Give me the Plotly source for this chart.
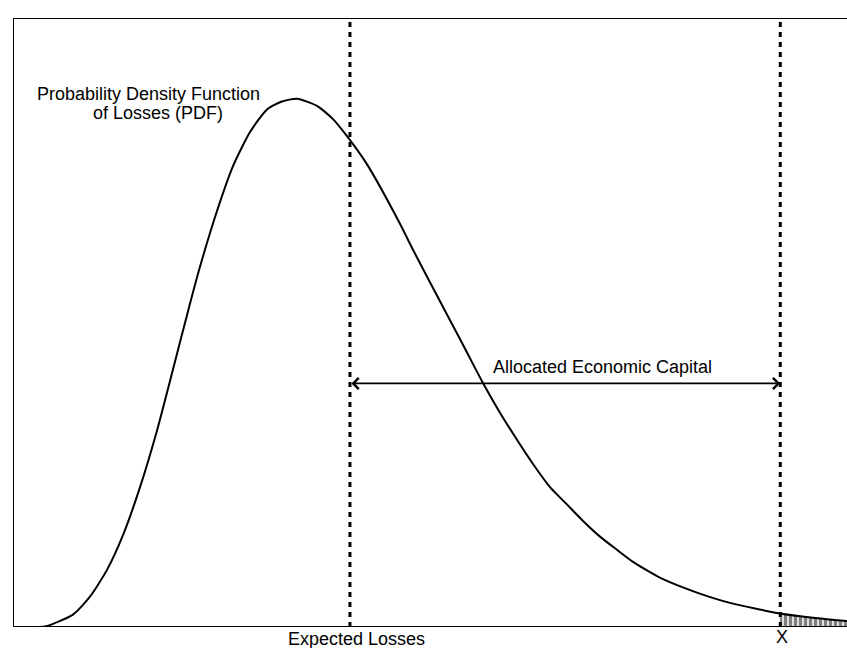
import plotly.graph_objects as go

# Loss axis (0-100 arbitrary units) and density (0-100 = top of frame)
loss = [0.0, 2.04, 3.84, 7.19, 9.23, 11.27, 13.19, 15.23, 17.27, 19.18, 21.22, 22.42, 24.46,
        26.38, 28.42, 30.46, 32.25, 34.05, 36.45, 38.37, 40.05, 42.45, 46.40, 47.96, 50.36,
        52.40, 54.44, 56.35, 58.39, 60.43, 62.35, 64.39, 66.43, 68.35, 70.38, 72.42, 74.34,
        76.38, 77.94, 82.01, 85.97, 91.97, 95.92, 100.0]
density = [0.0, 0.0, 0.08, 2.04, 4.98, 9.38, 15.09, 22.96, 32.28, 42.28, 53.09, 59.15, 68.31,
           75.68, 81.28, 84.99, 86.29, 86.75, 85.57, 83.40, 80.59, 75.96, 66.22, 61.94, 55.67,
           50.38, 45.07, 40.07, 35.19, 30.74, 26.77, 22.97, 20.11, 17.41, 14.84, 12.68, 10.69,
           9.01, 7.85, 5.65, 3.96, 2.23, 1.53, 0.99]

expected_loss = 40.4
var_x = 92.0
capital_level = 40.0

tail_x = [x for x in loss if x >= var_x - 0.1]
tail_y = [y for x, y in zip(loss, density) if x >= var_x - 0.1]

FONT = "Liberation Sans, Arial, Helvetica, sans-serif"

fig = go.Figure()

fig.add_trace(go.Scatter(
    x=tail_x, y=tail_y, mode="lines", fill="tozeroy",
    line=dict(width=0, color="black"),
    fillcolor="white",
    fillpattern=dict(shape="|", size=5, solidity=0.7, fgcolor="black", bgcolor="white"),
    hoverinfo="skip", showlegend=False,
))

fig.add_trace(go.Scatter(
    x=loss, y=density, mode="lines",
    line=dict(color="black", width=2, shape="spline", smoothing=0.6),
    hoverinfo="skip", showlegend=False,
))

shapes = [
    # frame: left, top, bottom
    dict(type="line", xref="x", yref="y", x0=0, x1=0, y0=0, y1=100, line=dict(color="black", width=2)),
    dict(type="line", xref="x", yref="y", x0=0, x1=100, y0=100, y1=100, line=dict(color="black", width=2)),
    dict(type="line", xref="x", yref="y", x0=0, x1=100, y0=0, y1=0, line=dict(color="black", width=2)),
    # dashed verticals
    dict(type="line", xref="x", yref="y", x0=expected_loss, x1=expected_loss, y0=0, y1=100,
         line=dict(color="black", width=3, dash="5px,5px")),
    dict(type="line", xref="x", yref="y", x0=var_x, x1=var_x, y0=0, y1=100,
         line=dict(color="black", width=3, dash="5px,5px")),
]

annotations = [
    dict(x=var_x, y=capital_level, ax=expected_loss, ay=capital_level,
         xref="x", yref="y", axref="x", ayref="y", text="",
         showarrow=True, arrowhead=4, startarrowhead=4, arrowside="end+start",
         arrowsize=1.2, startarrowsize=1.2, arrowwidth=1.8, arrowcolor="black",
         standoff=0, startstandoff=0),
    dict(x=70.7, y=42.7, xref="x", yref="y", text="Allocated Economic Capital",
         showarrow=False, font=dict(family=FONT, size=18, color="black")),
    dict(x=16.25, y=87.5, xref="x", yref="y", text="Probability Density Function",
         showarrow=False, font=dict(family=FONT, size=18, color="black")),
    dict(x=17.4, y=84.4, xref="x", yref="y", text="of Losses (PDF)",
         showarrow=False, font=dict(family=FONT, size=18, color="black")),
    dict(x=41.2, y=-0.020, xref="x", yref="paper", yanchor="middle", xanchor="center",
         text="Expected Losses", showarrow=False, font=dict(family=FONT, size=18, color="black")),
    dict(x=92.2, y=-0.017, xref="x", yref="paper", yanchor="middle", xanchor="center",
         text="X", showarrow=False, font=dict(family=FONT, size=18, color="black")),
]

fig.update_layout(
    width=847, height=664,
    margin=dict(l=13, r=0, t=18, b=37),
    paper_bgcolor="white", plot_bgcolor="white",
    xaxis=dict(range=[0, 100], visible=False, fixedrange=True),
    yaxis=dict(range=[0, 100], visible=False, fixedrange=True),
    shapes=shapes, annotations=annotations,
    showlegend=False,
)

fig.write_html("out.html", config={"displayModeBar": False},
               post_script="document.body.style.margin='0';document.body.style.overflow='hidden';")
